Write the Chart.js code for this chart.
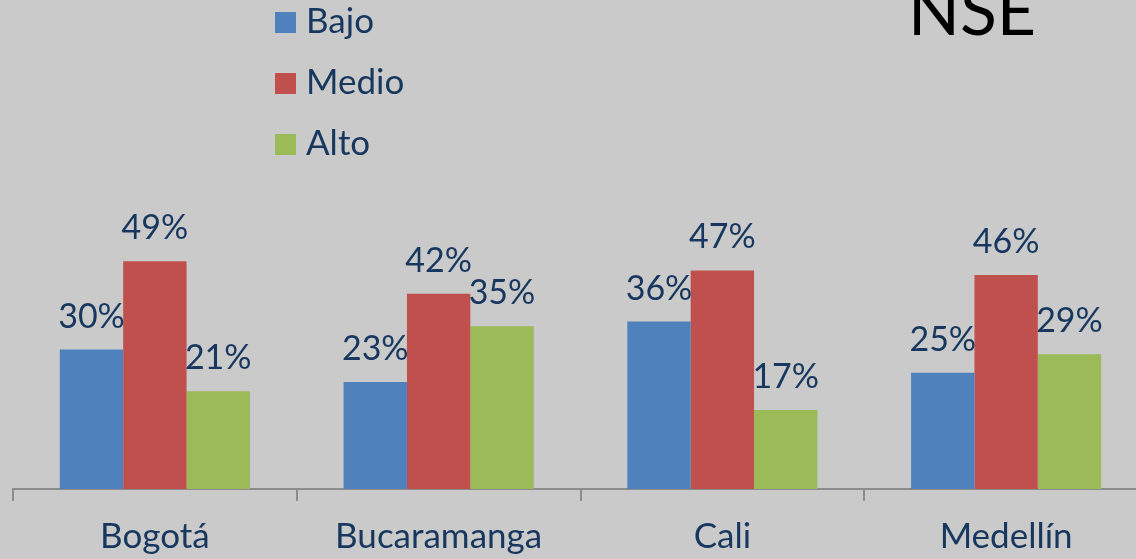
<!DOCTYPE html>
<html>
<head>
<meta charset="utf-8">
<script src="https://cdn.jsdelivr.net/npm/chart.js@4/dist/chart.umd.min.js"></script>
<style>
  html, body { margin: 0; padding: 0; background: #cacaca; overflow: hidden; }
  #wrap { width: 1160px; height: 575px; }
</style>
</head>
<body>
<div id="wrap"><canvas id="chartCanva"></canvas></div>
<script>
const cities = ['Bogotá', 'Bucaramanga', 'Cali', 'Medellín'];
const seriesNames = ['Bajo', 'Medio', 'Alto'];
const bajo = [30, 23, 36, 25];
const medio = [49, 42, 47, 46];
const alto = [21, 35, 17, 29];
const barColors = ['#4f81bd', '#c0504d', '#9bbb59'];
const titleText = 'NSE';

const txtColor = '#17375e';
const fontFam = 'Lato, "Noto Sans", sans-serif';

// labels above bars, legend stack and title
const extras = {
  id: 'extras',
  afterDatasetsDraw(chart) {
    const c = chart.ctx;
    c.save();
    c.font = '34px ' + fontFam;
    c.fillStyle = txtColor;
    c.textAlign = 'center';
    c.textBaseline = 'alphabetic';
    chart.data.datasets.forEach((ds, i) => {
      chart.getDatasetMeta(i).data.forEach((bar, j) => {
        c.fillText(ds.data[j] + '%', bar.x, bar.y - 22);
      });
    });

    // legend
    c.textAlign = 'left';
    c.font = '35px ' + fontFam;
    chart.data.datasets.forEach((ds, i) => {
      let yb = 33 + i * 61;
      c.fillStyle = ds.backgroundColor;
      c.fillRect(275, yb - 21, 21, 21);
      c.fillStyle = txtColor;
      c.fillText(ds.label, 306, yb);
    });

    // title, top cut off like the original
    c.font = '68px ' + fontFam;
    c.fillStyle = '#000';
    c.fillText(titleText, 908, 35);
    c.restore();
  }
};

const data = {
  labels: cities,
  datasets: [
    { label: seriesNames[0], data: bajo, backgroundColor: barColors[0] },
    { label: seriesNames[1], data: medio, backgroundColor: barColors[1] },
    { label: seriesNames[2], data: alto, backgroundColor: barColors[2] }
  ]
};

new Chart(document.getElementById('chartCanva'), {
  type: 'bar',
  data: data,
  options: {
    responsive: true,
    maintainAspectRatio: false,
    animation: false,
    devicePixelRatio: 1,
    datasets: {
      bar: { barPercentage: 1, categoryPercentage: 0.67, borderWidth: 0 }
    },
    layout: { padding: { left: 13, right: 12, top: 210, bottom: 2 } },
    plugins: {
      legend: { display: false },
      tooltip: { enabled: false },
      title: { display: false }
    },
    scales: {
      x: {
        offset: true,
        grid: {
          offset: true,
          drawOnChartArea: false,
          drawTicks: true,
          tickLength: 12,
          color: '#8c8c8c',
          lineWidth: 2
        },
        border: { display: true, color: '#8c8c8c', width: 2 },
        ticks: {
          color: txtColor,
          font: { family: fontFam, size: 35 },
          padding: 15,
          maxRotation: 0,
          autoSkip: false
        }
      },
      y: {
        display: false,
        min: 0,
        max: 60
      }
    }
  },
  plugins: [extras]
});
</script>
</body>
</html>
